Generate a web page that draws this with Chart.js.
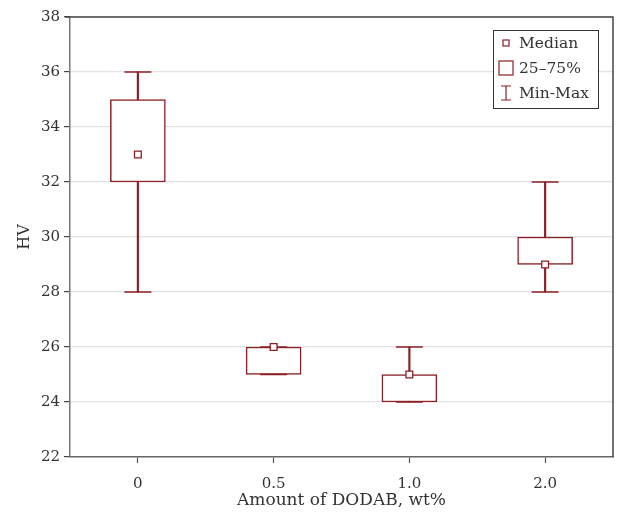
<!DOCTYPE html>
<html>
<head>
<meta charset="utf-8">
<script src="https://cdn.jsdelivr.net/npm/chart.js@4"></script>
<style>
html,body{margin:0;padding:0;background:#fff;}
#wrap{width:617px;height:513px;}
</style>
</head>
<body>
<div id="wrap"><canvas id="c" width="617" height="513"></canvas></div>
<script>
const categories = ['0', '0.5', '1.0', '2.0'];
const minValues = [28, 25, 24, 28];
const q1Values = [32, 25, 24, 29];
const medianValues = [33, 26, 25, 29];
const q3Values = [35, 26, 25, 30];
const maxValues = [36, 26, 26, 32];
const yTicks = [22, 24, 26, 28, 30, 32, 34, 36, 38];
const legendLabels = ['Median', '25\u201375%', 'Min-Max'];
const xTitle = 'Amount of DODAB, wt%';
const yTitle = 'HV';

const RED = '#8b1f25';
const FONT = '"DejaVu Serif", serif';
const TXT = '#333';

const framePlugin = {
  id: 'frame',
  afterDatasetsDraw(chart) {
    const {ctx, chartArea: a} = chart;
    ctx.save();
    ctx.strokeStyle = '#444';
    ctx.lineWidth = 1.5;
    ctx.beginPath();
    ctx.moveTo(a.left - 5, a.top);
    ctx.lineTo(a.right, a.top);
    ctx.lineTo(a.right, a.bottom);
    ctx.stroke();
    ctx.restore();
  }
};

const legendPlugin = {
  id: 'boxLegend',
  afterDraw(chart) {
    const {ctx, chartArea: a} = chart;
    const w = 105, h = 78;
    const x = a.right - 15 - w, y = a.top + 13;
    ctx.save();
    ctx.fillStyle = '#fff';
    ctx.fillRect(x, y, w, h);
    ctx.strokeStyle = '#333';
    ctx.lineWidth = 1;
    ctx.strokeRect(x + 0.5, y + 0.5, w, h);
    ctx.font = '15.5px ' + FONT;
    ctx.fillStyle = TXT;
    ctx.textBaseline = 'middle';
    const rows = [y + 13, y + 38, y + 63];
    const ix = x + 13;
    legendLabels.forEach((t, i) => ctx.fillText(t, x + 26, rows[i] + 1));
    ctx.strokeStyle = RED;
    ctx.lineWidth = 1.2;
    ctx.strokeRect(ix - 3, rows[0] - 3, 6, 6);
    ctx.strokeRect(ix - 7, rows[1] - 7, 14, 14);
    ctx.beginPath();
    ctx.moveTo(ix, rows[2] - 7); ctx.lineTo(ix, rows[2] + 7);
    ctx.moveTo(ix - 5, rows[2] - 7); ctx.lineTo(ix + 5, rows[2] - 7);
    ctx.moveTo(ix - 5, rows[2] + 7); ctx.lineTo(ix + 5, rows[2] + 7);
    ctx.stroke();
    ctx.restore();
  }
};

new Chart(document.getElementById('c'), {
  data: {
    labels: categories,
    datasets: [
      {
        type: 'bar', label: 'whisker',
        data: minValues.map((v, i) => [v, maxValues[i]]),
        backgroundColor: RED, borderWidth: 0,
        barThickness: 1.5, grouped: false, order: 5
      },
      {
        type: 'bar', label: 'box',
        data: q1Values.map((v, i) => [v, q3Values[i]]),
        backgroundColor: '#fff', borderColor: RED, borderWidth: 1.5,
        borderSkipped: false, barThickness: 55, grouped: false, order: 4
      },
      {
        type: 'line', label: 'min', data: minValues, showLine: false,
        pointStyle: 'line', pointRadius: 13.5, pointHoverRadius: 13.5,
        borderColor: RED, borderWidth: 1.5, order: 3
      },
      {
        type: 'line', label: 'max', data: maxValues, showLine: false,
        pointStyle: 'line', pointRadius: 13.5, pointHoverRadius: 13.5,
        borderColor: RED, borderWidth: 1.5, order: 2
      },
      {
        type: 'line', label: 'median', data: medianValues, showLine: false,
        pointStyle: 'rect', pointRadius: 4.8, pointHoverRadius: 4.8,
        backgroundColor: '#fff', borderColor: RED, borderWidth: 1.3, order: 1
      }
    ]
  },
  options: {
    responsive: false,
    animation: false,
    events: [],
    layout: {autoPadding: false, padding: {top: 17, right: 4, left: 0, bottom: 0}},
    plugins: {legend: {display: false}, tooltip: {enabled: false}},
    scales: {
      x: {
        type: 'category', offset: true,
        grid: {offset: false, drawOnChartArea: false, drawTicks: true, tickLength: 6, tickColor: '#555', tickWidth: 1.2},
        border: {color: '#666', width: 1.5},
        ticks: {color: TXT, font: {family: FONT, size: 15}, padding: 12},
        title: {display: true, text: xTitle, color: TXT, font: {family: FONT, size: 17}, padding: {top: 0, bottom: 2}},
        afterFit(s) { s.height = 56; s.paddingLeft = 0; s.paddingRight = 0; }
      },
      y: {
        min: 22, max: 38,
        afterBuildTicks(s) { s.ticks = yTicks.map(v => ({value: v})); },
        grid: {color: '#e2e2e2', lineWidth: 1.2, drawTicks: true, tickLength: 6, tickColor: '#444', tickWidth: 1.2},
        border: {color: '#777', width: 1.5},
        ticks: {color: TXT, font: {family: FONT, size: 15}, padding: 4},
        title: {display: true, text: yTitle, color: TXT, font: {family: FONT, size: 16}, padding: {top: 15, bottom: 0}},
        afterFit(s) { s.width = 70; }
      }
    }
  },
  plugins: [framePlugin, legendPlugin]
});
</script>
</body>
</html>
